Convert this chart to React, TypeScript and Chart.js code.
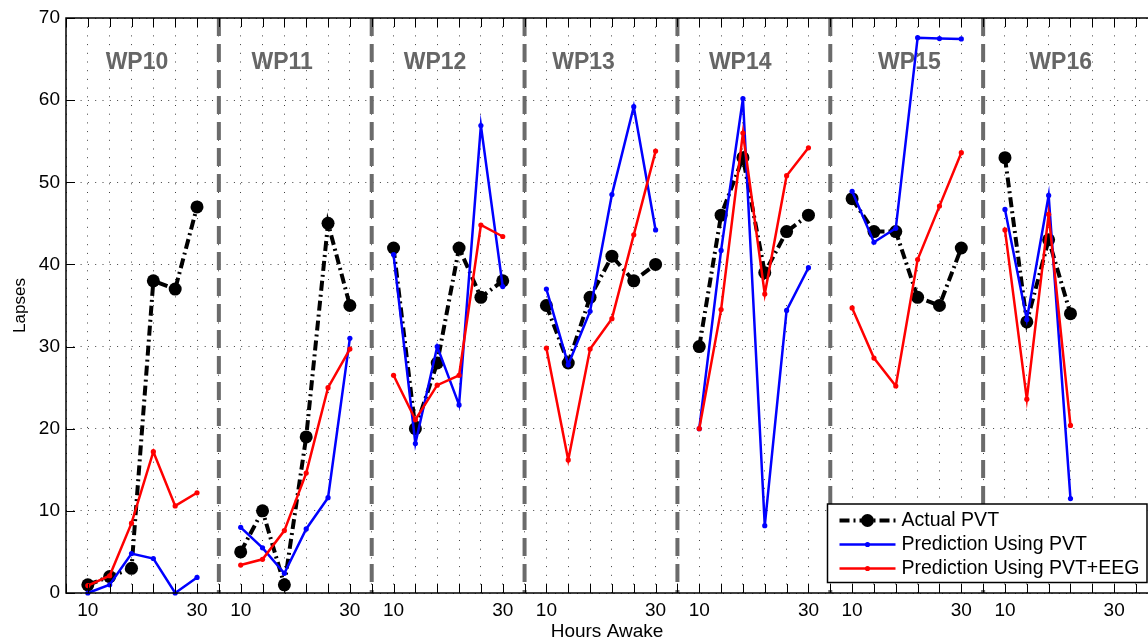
import React, { useEffect, useRef } from "react";
import { Chart, registerables } from "chart.js";

Chart.register(...registerables);

// ---------- data ----------
const panels = ["WP10", "WP11", "WP12", "WP13", "WP14", "WP15", "WP16"];
const hours = [10, 14, 18, 22, 26, 30];
const hourTickLabels = [10, 30];
const panelStep = 28; // hours of axis per panel
const dividerHour = 34; // panel boundary (relative hour)
const xMin = 6;
const xMax = 204.2;
const tickStep = 4;
const yTicks = [0, 10, 20, 30, 40, 50, 60, 70];

const actualPVT = [
  [1, 2, 3, 38, 37, 47],
  [5, 10, 1, 19, 45, 35],
  [42, 20, 28, 42, 36, 38],
  [35, 28, 36, 41, 38, 40],
  [30, 46, 53, 39, 44, 46],
  [48, 44, 44, 36, 35, 42],
  [53, 33, 43, 34],
];
const predPVT = [
  [0, 1.0, 4.8, 4.2, 0, 1.9],
  [8.0, 5.5, 2.4, 7.8, 11.6, 31.0],
  [41.2, 18.2, 30.0, 22.9, 56.9, 37.3],
  [37.0, 27.8, 34.3, 48.5, 59.2, 44.2],
  [20.0, 41.7, 60.2, 8.2, 34.4, 39.6],
  [48.9, 42.7, 44.4, 67.6, 67.5, 67.45],
  [46.7, 33.3, 48.4, 11.5],
];
const predPVTEEG = [
  [0.9, 2.1, 8.5, 17.2, 10.6, 12.2],
  [3.4, 4.1, 7.6, 14.6, 25.0, 29.7],
  [26.5, 21.1, 25.3, 26.5, 44.8, 43.4],
  [29.8, 16.2, 29.7, 33.4, 43.6, 53.8],
  [20.0, 34.5, 56.0, 36.4, 50.8, 54.2],
  [34.7, 28.6, 25.2, 40.6, 47.1, 53.6],
  [44.2, 23.6, 46.1, 20.4],
];
const seriesLabels = ["Actual PVT", "Prediction Using PVT", "Prediction Using PVT+EEG"];
const labelHours = [19, 17.6, 17.6, 16.8, 17.5, 20.5, 20.2];
const labelY = 64.6;

// ---------- helpers ----------
const FONT = '"Liberation Sans", Arial, Helvetica, sans-serif';

function seriesPoints(values: number[][]) {
  const pts: { x: number; y: number | null }[] = [];
  values.forEach((row, p) => {
    row.forEach((v, i) => pts.push({ x: p * panelStep + hours[i], y: v }));
    pts.push({ x: p * panelStep + dividerHour, y: null });
  });
  return pts;
}

const xTicks: number[] = [];
for (let v = xMin; v <= xMax; v += tickStep) xTicks.push(v);

const actualDash = [10, 4, 2, 4];

const decorPlugin = {
  id: "decor",
  beforeDatasetsDraw(chart: any) {
    const { ctx, chartArea: a, scales } = chart;
    const x = scales.x;
    const y = scales.y;
    ctx.save();
    ctx.strokeStyle = "#6b6b6b";
    ctx.lineWidth = 4;
    ctx.setLineDash([18, 8]);
    for (let k = 0; k < panels.length - 1; k++) {
      const px = x.getPixelForValue(k * panelStep + dividerHour);
      ctx.beginPath();
      ctx.moveTo(px, a.top);
      ctx.lineTo(px, a.bottom);
      ctx.stroke();
    }
    ctx.setLineDash([]);
    ctx.fillStyle = "#666666";
    ctx.font = `bold 23px ${FONT}`;
    ctx.textAlign = "center";
    ctx.textBaseline = "middle";
    panels.forEach((p, i) => {
      ctx.fillText(p, x.getPixelForValue(i * panelStep + labelHours[i]), y.getPixelForValue(labelY));
    });
    ctx.restore();
  },
  afterDraw(chart: any) {
    const { ctx, chartArea: a, scales } = chart;
    const x = scales.x;
    const y = scales.y;
    ctx.save();
    // ticks (inward)
    ctx.strokeStyle = "#000";
    ctx.lineWidth = 1;
    xTicks.forEach((v) => {
      const px = Math.round(x.getPixelForValue(v)) + 0.5;
      ctx.beginPath();
      ctx.moveTo(px, a.bottom);
      ctx.lineTo(px, a.bottom - 9);
      ctx.moveTo(px, a.top);
      ctx.lineTo(px, a.top + 9);
      ctx.stroke();
    });
    yTicks.forEach((v) => {
      const py = Math.round(y.getPixelForValue(v)) + 0.5;
      ctx.beginPath();
      ctx.moveTo(a.left, py);
      ctx.lineTo(a.left + 9, py);
      ctx.stroke();
    });
    // frame
    ctx.lineWidth = 1.5;
    ctx.beginPath();
    ctx.moveTo(a.right, a.top);
    ctx.lineTo(a.left, a.top);
    ctx.lineTo(a.left, a.bottom);
    ctx.lineTo(a.right, a.bottom);
    ctx.stroke();

    // legend
    const bx = a.right - 320.5;
    const by = a.bottom - 89;
    const bw = 319.5;
    const bh = 78.5;
    ctx.fillStyle = "#fff";
    ctx.fillRect(bx, by, bw, bh);
    ctx.strokeStyle = "#000";
    ctx.lineWidth = 1.5;
    ctx.strokeRect(bx, by, bw, bh);
    const ds = chart.data.datasets;
    const rows = [16.5, 40.5, 64.5];
    ds.forEach((d: any, i: number) => {
      const ry = by + rows[i];
      const x0 = bx + 12;
      const x1 = bx + 68;
      ctx.save();
      ctx.strokeStyle = d.borderColor;
      ctx.lineWidth = d.borderWidth;
      ctx.setLineDash(d.borderDash || []);
      ctx.beginPath();
      ctx.moveTo(x0, ry);
      ctx.lineTo(x1, ry);
      ctx.stroke();
      ctx.setLineDash([]);
      ctx.fillStyle = d.pointBackgroundColor;
      ctx.beginPath();
      ctx.arc((x0 + x1) / 2, ry, d.pointRadius, 0, Math.PI * 2);
      ctx.fill();
      ctx.restore();
      ctx.fillStyle = "#000";
      ctx.font = `19.5px ${FONT}`;
      ctx.textAlign = "left";
      ctx.textBaseline = "middle";
      ctx.fillText(d.label, bx + 74, ry);
    });
    ctx.restore();
  },
};

export default function App() {
  const ref = useRef<HTMLCanvasElement>(null);
  useEffect(() => {
    const canvas = ref.current;
    if (!canvas) return;
    const chart = new Chart(canvas, {
      type: "line",
      data: {
        datasets: [
          {
            label: seriesLabels[0],
            data: seriesPoints(actualPVT),
            borderColor: "#000",
            backgroundColor: "#000",
            pointBackgroundColor: "#000",
            pointBorderColor: "#000",
            borderWidth: 4,
            borderDash: actualDash,
            pointRadius: 6.5,
            pointBorderWidth: 0,
            tension: 0,
            spanGaps: false,
            clip: false,
            order: 3,
          },
          {
            label: seriesLabels[1],
            data: seriesPoints(predPVT),
            borderColor: "#0000ff",
            backgroundColor: "#0000ff",
            pointBackgroundColor: "#0000ff",
            pointBorderColor: "#0000ff",
            borderWidth: 2.5,
            pointRadius: 2.6,
            pointBorderWidth: 0,
            tension: 0,
            spanGaps: false,
            clip: false,
            order: 2,
          },
          {
            label: seriesLabels[2],
            data: seriesPoints(predPVTEEG),
            borderColor: "#ff0000",
            backgroundColor: "#ff0000",
            pointBackgroundColor: "#ff0000",
            pointBorderColor: "#ff0000",
            borderWidth: 2.5,
            pointRadius: 2.6,
            pointBorderWidth: 0,
            tension: 0,
            spanGaps: false,
            clip: false,
            order: 1,
          },
        ] as any,
      },
      options: {
        responsive: false,
        animation: false,
        events: [],
        layout: { autoPadding: false, padding: { top: 18, left: 0, right: 0, bottom: 0 } },
        plugins: { legend: { display: false }, tooltip: { enabled: false } },
        scales: {
          x: {
            type: "linear",
            min: xMin,
            max: xMax,
            afterBuildTicks: (s: any) => {
              s.ticks = xTicks.map((v) => ({ value: v }));
            },
            afterFit: (s: any) => {
              s.height = 47;
              s.paddingLeft = 0;
              s.paddingRight = 0;
            },
            grid: { color: "rgba(0,0,0,0.75)", lineWidth: 1, drawTicks: false },
            border: { display: false, dash: [1, 7.7] },
            ticks: {
              autoSkip: false,
              maxRotation: 0,
              padding: 6,
              color: "#000",
              font: { family: FONT, size: 19 },
              callback: (value: any) => {
                const h = ((Number(value) - xMin) % panelStep) + xMin;
                return hourTickLabels.includes(h) ? String(h) : "";
              },
            },
            title: {
              display: true,
              text: "Hours Awake",
              color: "#000",
              font: { family: FONT, size: 19, lineHeight: 1.2 },
              padding: { top: 0, bottom: -3.5 },
            },
          },
          y: {
            min: 0,
            max: 70,
            afterBuildTicks: (s: any) => {
              s.ticks = yTicks.map((v) => ({ value: v }));
            },
            afterFit: (s: any) => {
              s.width = 66;
            },
            grid: { color: "rgba(0,0,0,0.75)", lineWidth: 1, drawTicks: false },
            border: { display: false, dash: [1, 6.3] },
            ticks: {
              padding: 6,
              color: "#000",
              font: { family: FONT, size: 19 },
            },
            title: {
              display: true,
              text: "Lapses",
              color: "#000",
              font: { family: FONT, size: 17, lineHeight: 1.2 },
              padding: { top: 10, bottom: 0 },
            },
          },
        },
      } as any,
      plugins: [decorPlugin],
    });
    return () => chart.destroy();
  }, []);
  return (
    <div style={{ position: "fixed", left: 0, top: 0, width: 1148, height: 640, background: "#fff" }}>
      <canvas ref={ref} width={1148} height={640} style={{ display: "block", width: 1148, height: 640 }} />
    </div>
  );
}
